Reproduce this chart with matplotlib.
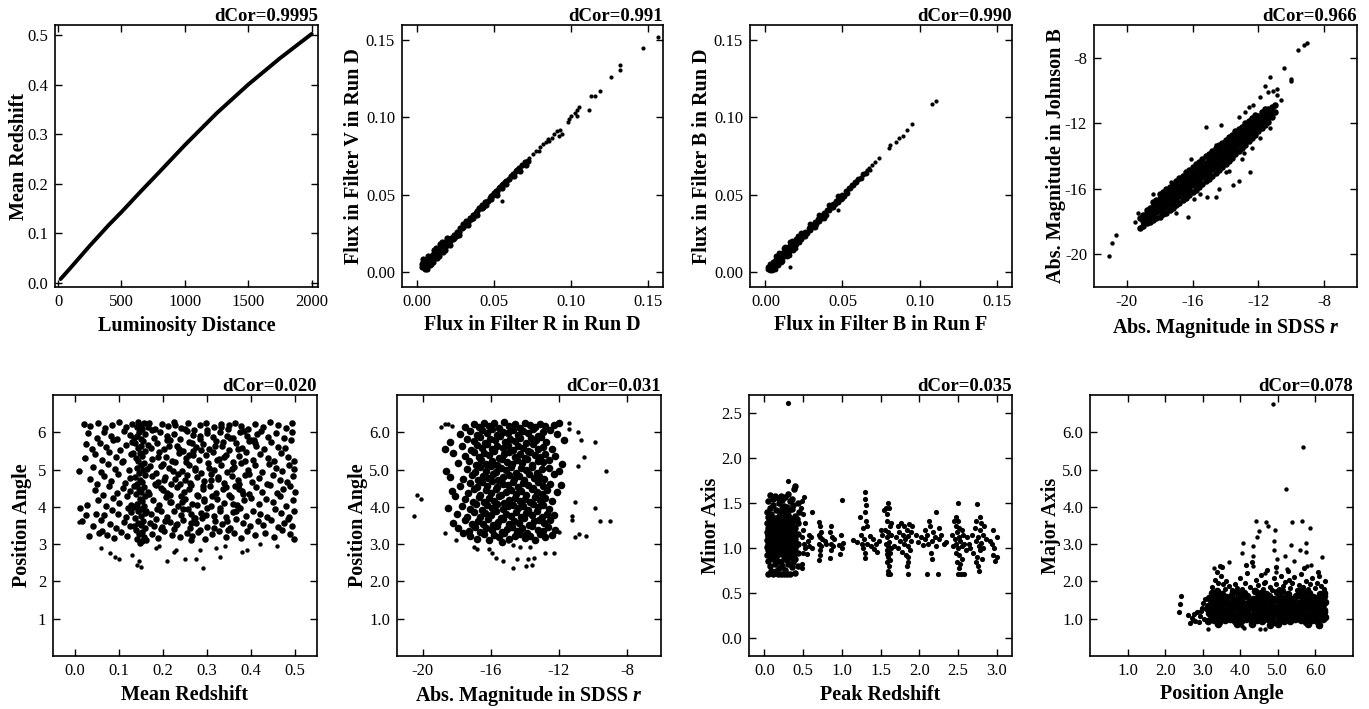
import numpy as np
import matplotlib
matplotlib.use('Agg')
import matplotlib.pyplot as plt
from matplotlib.ticker import FormatStrFormatter

plt.rcParams['font.family'] = ['Liberation Serif', 'DejaVu Serif']
plt.rcParams['mathtext.fontset'] = 'custom'
plt.rcParams['mathtext.rm'] = 'Liberation Serif:bold'
plt.rcParams['mathtext.it'] = 'Liberation Serif:italic:bold'
plt.rcParams['axes.unicode_minus'] = False

# ---- panel 1: luminosity distance vs mean redshift ----
lum_dist = [20, 100, 250, 400, 500, 650, 800, 1000, 1250, 1500, 1750, 2000]
mean_z_curve = [0.008, 0.031, 0.075, 0.117, 0.143, 0.184, 0.224, 0.278, 0.342, 0.400, 0.453, 0.502]

# ---- panel 2: flux R (run D) vs flux V (run D) ----
flux_r_v_band = [
    (0.003, 0.003), (0.003, 0.005), (0.004, 0.004), (0.004, 0.006), (0.005, 0.003), (0.005, 0.005),
    (0.006, 0.004), (0.006, 0.007), (0.007, 0.005), (0.007, 0.008), (0.008, 0.006), (0.008, 0.009),
    (0.009, 0.007), (0.009, 0.010), (0.010, 0.008), (0.010, 0.011), (0.011, 0.009), (0.011, 0.012),
    (0.012, 0.010), (0.012, 0.013), (0.013, 0.011), (0.013, 0.014), (0.014, 0.012), (0.014, 0.015),
    (0.015, 0.013), (0.015, 0.016), (0.016, 0.014), (0.016, 0.017), (0.017, 0.015), (0.017, 0.018),
    (0.018, 0.016), (0.018, 0.019), (0.019, 0.017), (0.019, 0.020), (0.020, 0.018), (0.020, 0.021),
    (0.005, 0.002), (0.006, 0.002), (0.008, 0.004), (0.007, 0.010), (0.010, 0.006), (0.012, 0.015),
    (0.014, 0.010), (0.016, 0.019), (0.018, 0.014), (0.004, 0.008), (0.005, 0.007), (0.009, 0.005),
    (0.011, 0.014), (0.013, 0.009), (0.015, 0.018), (0.017, 0.013), (0.019, 0.022), (0.021, 0.017),
    (0.021, 0.020), (0.022, 0.022), (0.023, 0.021), (0.024, 0.024), (0.025, 0.023), (0.026, 0.026),
    (0.027, 0.026), (0.028, 0.028), (0.029, 0.028), (0.030, 0.031), (0.031, 0.030), (0.032, 0.033),
    (0.033, 0.032), (0.034, 0.035), (0.035, 0.034), (0.036, 0.037), (0.037, 0.037), (0.038, 0.038),
    (0.039, 0.039), (0.040, 0.041), (0.041, 0.041), (0.042, 0.043), (0.043, 0.042), (0.044, 0.045),
    (0.045, 0.045), (0.046, 0.046), (0.047, 0.048), (0.048, 0.047), (0.049, 0.050), (0.050, 0.051),
    (0.051, 0.052), (0.052, 0.052), (0.053, 0.054), (0.054, 0.055), (0.055, 0.056), (0.056, 0.057),
    (0.057, 0.058), (0.058, 0.059), (0.060, 0.060), (0.061, 0.062), (0.062, 0.063), (0.064, 0.065),
    (0.065, 0.066), (0.066, 0.067), (0.068, 0.069), (0.070, 0.071), (0.072, 0.072), (0.071, 0.069),
    (0.024, 0.022), (0.027, 0.024), (0.030, 0.029), (0.033, 0.030), (0.036, 0.035), (0.039, 0.037),
    (0.042, 0.041), (0.045, 0.043), (0.048, 0.049), (0.052, 0.050), (0.055, 0.054), (0.058, 0.057),
    (0.063, 0.062), (0.067, 0.065),
]
flux_r_v_tail = [
    (0.073, 0.074), (0.075, 0.076), (0.077, 0.078), (0.079, 0.078), (0.080, 0.081), (0.082, 0.083),
    (0.084, 0.084), (0.085, 0.086), (0.086, 0.085), (0.088, 0.087), (0.089, 0.089), (0.091, 0.091),
    (0.092, 0.088), (0.094, 0.089), (0.093, 0.092), (0.098, 0.097), (0.099, 0.099), (0.100, 0.101),
    (0.103, 0.103), (0.104, 0.105), (0.105, 0.107), (0.104, 0.101), (0.112, 0.105), (0.113, 0.114),
    (0.116, 0.114), (0.119, 0.117), (0.126, 0.126), (0.132, 0.131), (0.132, 0.134), (0.147, 0.145),
    (0.157, 0.152), (0.055, 0.046),
]

# ---- panel 3: flux B (run F) vs flux B (run D) ----
flux_b_band = [
    (0.002, 0.002), (0.002, 0.003), (0.003, 0.001), (0.003, 0.003), (0.004, 0.002), (0.004, 0.005),
    (0.005, 0.003), (0.005, 0.006), (0.006, 0.004), (0.006, 0.007), (0.007, 0.005), (0.007, 0.008),
    (0.008, 0.006), (0.008, 0.009), (0.009, 0.007), (0.009, 0.010), (0.010, 0.008), (0.010, 0.011),
    (0.011, 0.009), (0.011, 0.012), (0.012, 0.010), (0.012, 0.013), (0.013, 0.011), (0.013, 0.014),
    (0.014, 0.012), (0.014, 0.015), (0.015, 0.013), (0.015, 0.016), (0.016, 0.014), (0.016, 0.017),
    (0.017, 0.015), (0.017, 0.018), (0.018, 0.016), (0.018, 0.019), (0.019, 0.017), (0.019, 0.020),
    (0.020, 0.018), (0.020, 0.021), (0.004, 0.001), (0.006, 0.002), (0.008, 0.004), (0.007, 0.010),
    (0.010, 0.006), (0.012, 0.015), (0.014, 0.010), (0.016, 0.019), (0.018, 0.014), (0.003, 0.005),
    (0.005, 0.002), (0.009, 0.012), (0.011, 0.007), (0.013, 0.016), (0.015, 0.011), (0.017, 0.020),
    (0.019, 0.015), (0.021, 0.023), (0.022, 0.019),
    (0.021, 0.020), (0.022, 0.022), (0.023, 0.021), (0.024, 0.024), (0.025, 0.023), (0.026, 0.026),
    (0.027, 0.025), (0.028, 0.028), (0.029, 0.027), (0.030, 0.030), (0.031, 0.029), (0.032, 0.032),
    (0.033, 0.031), (0.034, 0.034), (0.035, 0.033), (0.036, 0.036), (0.037, 0.035), (0.038, 0.038),
    (0.039, 0.037), (0.040, 0.040), (0.041, 0.040), (0.042, 0.042), (0.043, 0.042), (0.044, 0.044),
    (0.045, 0.044), (0.046, 0.046), (0.047, 0.045), (0.048, 0.048), (0.049, 0.047), (0.050, 0.050),
    (0.051, 0.049), (0.052, 0.052), (0.053, 0.051), (0.054, 0.054), (0.055, 0.054), (0.056, 0.056),
    (0.057, 0.056), (0.058, 0.058), (0.059, 0.058), (0.060, 0.060), (0.062, 0.061), (0.063, 0.063),
    (0.065, 0.064), (0.023, 0.025), (0.026, 0.023), (0.029, 0.031), (0.032, 0.029), (0.035, 0.037),
    (0.038, 0.035), (0.041, 0.043), (0.044, 0.042), (0.047, 0.049), (0.050, 0.048),
]
flux_b_tail = [
    (0.066, 0.066), (0.067, 0.067), (0.068, 0.066), (0.069, 0.069), (0.071, 0.071), (0.074, 0.074),
    (0.080, 0.080), (0.081, 0.082), (0.085, 0.084), (0.087, 0.087), (0.089, 0.088), (0.092, 0.092),
    (0.095, 0.096), (0.108, 0.109), (0.111, 0.111), (0.016, 0.003), (0.047, 0.040),
]

# ---- panel 4: abs. magnitude SDSS r vs Johnson B ----
mag_r_b_core = [
    (-19.2, -18.4), (-19.2, -17.8), (-19.0, -18.3), (-19.0, -17.95), (-19.0, -17.6),
    (-18.8, -18.1), (-18.8, -17.8), (-18.8, -17.5), (-18.8, -17.3),
    (-18.6, -18.0), (-18.6, -17.7), (-18.6, -17.45), (-18.6, -17.2),
    (-18.4, -17.9), (-18.4, -17.6), (-18.4, -17.35), (-18.4, -17.1), (-18.4, -16.8),
    (-18.2, -17.8), (-18.2, -17.45), (-18.2, -17.2), (-18.2, -16.95), (-18.2, -16.7),
    (-18.0, -17.7), (-18.0, -17.35), (-18.0, -17.1), (-18.0, -16.85), (-18.0, -16.6), (-18.0, -16.3),
    (-17.8, -17.55), (-17.8, -17.2), (-17.8, -16.95), (-17.8, -16.7), (-17.8, -16.45), (-17.8, -16.2),
    (-17.6, -17.5), (-17.6, -17.1), (-17.6, -16.85), (-17.6, -16.6), (-17.6, -16.35), (-17.6, -16.0),
    (-17.4, -17.3), (-17.4, -16.95), (-17.4, -16.7), (-17.4, -16.45), (-17.4, -16.2), (-17.4, -15.9),
    (-17.2, -17.2), (-17.2, -16.8), (-17.2, -16.55), (-17.2, -16.3), (-17.2, -16.05), (-17.2, -15.75),
    (-17.0, -17.0), (-17.0, -16.6), (-17.0, -16.35), (-17.0, -16.1), (-17.0, -15.85), (-17.0, -15.5),
    (-16.8, -16.9), (-16.8, -16.45), (-16.8, -16.2), (-16.8, -15.95), (-16.8, -15.7), (-16.8, -15.35),
    (-16.6, -16.7), (-16.6, -16.3), (-16.6, -16.05), (-16.6, -15.8), (-16.6, -15.55), (-16.6, -15.2),
    (-16.4, -16.55), (-16.4, -16.15), (-16.4, -15.9), (-16.4, -15.65), (-16.4, -15.4), (-16.4, -15.0),
    (-16.2, -16.4), (-16.2, -16.0), (-16.2, -15.75), (-16.2, -15.5), (-16.2, -15.25), (-16.2, -14.85),
    (-16.0, -16.2), (-16.0, -15.8), (-16.0, -15.55), (-16.0, -15.3), (-16.0, -15.05), (-16.0, -14.7),
    (-15.8, -16.05), (-15.8, -15.65), (-15.8, -15.4), (-15.8, -15.15), (-15.8, -14.9), (-15.8, -14.5),
    (-15.6, -15.9), (-15.6, -15.5), (-15.6, -15.25), (-15.6, -15.0), (-15.6, -14.75), (-15.6, -14.35),
    (-15.4, -15.7), (-15.4, -15.3), (-15.4, -15.05), (-15.4, -14.8), (-15.4, -14.55), (-15.4, -14.2),
    (-15.2, -15.55), (-15.2, -15.15), (-15.2, -14.9), (-15.2, -14.65), (-15.2, -14.4), (-15.2, -14.0),
    (-15.0, -15.4), (-15.0, -15.0), (-15.0, -14.75), (-15.0, -14.5), (-15.0, -14.25), (-15.0, -13.85),
    (-14.8, -15.2), (-14.8, -14.8), (-14.8, -14.55), (-14.8, -14.3), (-14.8, -14.05), (-14.8, -13.7),
    (-14.6, -15.05), (-14.6, -14.65), (-14.6, -14.4), (-14.6, -14.15), (-14.6, -13.9), (-14.6, -13.5),
    (-14.4, -14.85), (-14.4, -14.45), (-14.4, -14.2), (-14.4, -13.95), (-14.4, -13.7), (-14.4, -13.35),
    (-14.2, -14.7), (-14.2, -14.3), (-14.2, -14.05), (-14.2, -13.8), (-14.2, -13.55), (-14.2, -13.2),
    (-14.0, -14.5), (-14.0, -14.1), (-14.0, -13.85), (-14.0, -13.6), (-14.0, -13.35), (-14.0, -13.0),
    (-13.8, -14.3), (-13.8, -13.95), (-13.8, -13.7), (-13.8, -13.45), (-13.8, -13.2), (-13.8, -12.85),
    (-13.6, -14.1), (-13.6, -13.75), (-13.6, -13.5), (-13.6, -13.25), (-13.6, -13.0), (-13.6, -12.7),
    (-13.4, -13.9), (-13.4, -13.55), (-13.4, -13.3), (-13.4, -13.05), (-13.4, -12.8), (-13.4, -12.5),
    (-13.2, -13.7), (-13.2, -13.35), (-13.2, -13.1), (-13.2, -12.9), (-13.2, -12.65), (-13.2, -12.35),
    (-13.0, -13.5), (-13.0, -13.2), (-13.0, -12.95), (-13.0, -12.75), (-13.0, -12.5), (-13.0, -12.2),
    (-12.8, -13.3), (-12.8, -13.0), (-12.8, -12.8), (-12.8, -12.55), (-12.8, -12.3), (-12.8, -12.0),
    (-12.6, -13.1), (-12.6, -12.8), (-12.6, -12.6), (-12.6, -12.4), (-12.6, -12.15), (-12.6, -11.85),
    (-12.4, -12.9), (-12.4, -12.6), (-12.4, -12.4), (-12.4, -12.2), (-12.4, -12.0), (-12.4, -11.7),
    (-12.2, -12.7), (-12.2, -12.4), (-12.2, -12.2), (-12.2, -12.0), (-12.2, -11.8), (-12.2, -11.5),
    (-12.0, -12.5), (-12.0, -12.2), (-12.0, -12.0), (-12.0, -11.8), (-12.0, -11.55),
    (-11.8, -12.3), (-11.8, -12.0), (-11.8, -11.8), (-11.8, -11.55), (-11.8, -11.3),
    (-11.6, -12.1), (-11.6, -11.8), (-11.6, -11.6), (-11.6, -11.35), (-11.6, -11.1),
    (-11.4, -11.9), (-11.4, -11.6), (-11.4, -11.4), (-11.4, -11.15),
    (-11.2, -11.6), (-11.2, -11.3), (-11.2, -11.0), (-11.0, -11.3), (-11.0, -10.9),
]
mag_r_b_out = [
    (-21.1, -20.1), (-20.9, -19.3), (-20.65, -18.8), (-19.3, -17.5), (-19.5, -18.0), (-18.7, -17.95),
    (-9.6, -7.5), (-9.2, -7.2), (-9.05, -7.1), (-10.45, -8.6), (-10.0, -9.4), (-10.0, -9.3),
    (-11.3, -9.2), (-10.85, -9.9), (-10.85, -10.3), (-11.1, -10.0), (-10.6, -10.6), (-11.6, -9.7),
    (-11.9, -10.4), (-11.4, -10.1), (-12.3, -10.9), (-12.8, -11.3), (-13.2, -11.6), (-12.6, -11.0),
    (-15.2, -12.2), (-14.25, -12.1), (-14.6, -13.3), (-16.1, -14.2), (-17.3, -15.6), (-18.4, -16.3),
    (-12.5, -15.0), (-13.2, -15.5), (-13.55, -15.8), (-14.4, -16.0), (-14.55, -16.5), (-15.15, -16.5),
    (-15.55, -16.3), (-15.9, -16.6), (-16.3, -17.7), (-17.0, -17.5), (-14.0, -15.0), (-13.0, -14.2),
    (-12.4, -13.5), (-11.9, -12.9), (-11.3, -12.3), (-12.9, -13.8), (-13.8, -14.9),
]

# ---- panel 5: mean redshift vs position angle ----
z_pa_core = [
    (0.148, 3.02), (0.152, 3.08), (0.141, 3.15), (0.157, 3.19), (0.146, 3.27), (0.153, 3.33),
    (0.139, 3.38), (0.160, 3.44), (0.149, 3.51), (0.144, 3.58), (0.155, 3.63), (0.137, 3.70),
    (0.151, 3.76), (0.158, 3.83), (0.143, 3.89), (0.149, 3.95), (0.156, 4.02), (0.140, 4.08),
    (0.152, 4.15), (0.147, 4.21), (0.159, 4.28), (0.138, 4.34), (0.150, 4.41), (0.145, 4.47),
    (0.157, 4.53), (0.142, 4.60), (0.153, 4.66), (0.148, 4.73), (0.136, 4.79), (0.160, 4.86),
    (0.146, 4.92), (0.154, 4.98), (0.141, 5.05), (0.150, 5.11), (0.157, 5.18), (0.144, 5.24),
    (0.139, 5.31), (0.152, 5.37), (0.147, 5.44), (0.158, 5.50), (0.143, 5.57), (0.151, 5.63),
    (0.137, 5.70), (0.155, 5.76), (0.149, 5.83), (0.142, 5.89), (0.159, 5.95), (0.146, 6.02),
    (0.153, 6.08), (0.140, 6.14), (0.150, 6.20), (0.156, 6.26), (0.144, 6.28), (0.135, 3.48),
    (0.162, 3.90), (0.134, 4.55), (0.163, 5.02), (0.133, 5.85), (0.165, 6.15), (0.162, 3.12),
    (0.134, 4.00), (0.165, 4.40), (0.131, 5.45), (0.166, 5.65), (0.145, 3.95),
    (0.032, 3.21), (0.055, 3.30), (0.061, 3.36), (0.072, 3.25), (0.088, 3.17), (0.104, 3.33),
    (0.118, 3.22), (0.176, 3.28), (0.189, 3.16), (0.203, 3.35), (0.221, 3.24), (0.238, 3.19),
    (0.254, 3.31), (0.267, 3.22), (0.283, 3.37), (0.296, 3.15), (0.312, 3.27), (0.327, 3.34),
    (0.344, 3.20), (0.361, 3.29), (0.378, 3.17), (0.392, 3.36), (0.409, 3.24), (0.431, 3.31),
    (0.452, 3.19), (0.471, 3.38), (0.488, 3.27), (0.498, 3.15), (0.196, 3.40), (0.264, 3.12),
    (0.347, 3.38),
    (0.015, 3.62), (0.041, 3.48), (0.058, 3.66), (0.079, 3.55), (0.093, 3.44), (0.112, 3.60),
    (0.124, 3.49), (0.171, 3.57), (0.184, 3.68), (0.198, 3.46), (0.215, 3.59), (0.229, 3.51),
    (0.246, 3.65), (0.261, 3.43), (0.274, 3.58), (0.288, 3.69), (0.301, 3.47), (0.318, 3.62),
    (0.333, 3.53), (0.352, 3.44), (0.366, 3.67), (0.381, 3.56), (0.397, 3.48), (0.415, 3.63),
    (0.428, 3.52), (0.445, 3.66), (0.462, 3.45), (0.476, 3.58), (0.483, 3.68), (0.494, 3.50),
    (0.272, 3.70), (0.205, 3.62),
    (0.025, 3.78), (0.048, 3.81), (0.067, 3.79), (0.083, 3.92), (0.098, 3.82), (0.115, 3.74),
    (0.127, 3.86), (0.173, 3.80), (0.186, 3.95), (0.209, 3.73), (0.224, 3.88), (0.241, 3.77),
    (0.257, 3.93), (0.270, 3.71), (0.286, 3.84), (0.299, 3.98), (0.315, 3.75), (0.329, 3.89),
    (0.343, 3.72), (0.358, 3.85), (0.374, 3.97), (0.389, 3.76), (0.404, 3.90), (0.421, 3.81),
    (0.437, 3.74), (0.455, 3.94), (0.469, 3.83), (0.486, 3.72), (0.497, 3.90), (0.120, 3.97),
    (0.264, 3.80),
    (0.012, 3.96), (0.028, 4.05), (0.053, 4.18), (0.070, 4.02), (0.086, 4.24), (0.101, 4.11),
    (0.119, 4.28), (0.128, 4.06), (0.178, 4.19), (0.192, 4.04), (0.207, 4.26), (0.219, 4.13),
    (0.235, 4.01), (0.251, 4.22), (0.266, 4.09), (0.279, 4.29), (0.293, 4.15), (0.308, 4.03),
    (0.322, 4.21), (0.338, 4.11), (0.355, 4.27), (0.369, 4.05), (0.384, 4.18), (0.401, 4.25),
    (0.418, 4.07), (0.434, 4.20), (0.449, 4.12), (0.466, 4.28), (0.480, 4.03), (0.496, 4.19),
    (0.244, 4.14),
    (0.045, 4.45), (0.063, 4.32), (0.077, 4.55), (0.095, 4.38), (0.108, 4.51), (0.125, 4.42),
    (0.169, 4.35), (0.183, 4.58), (0.201, 4.44), (0.216, 4.31), (0.232, 4.53), (0.248, 4.40),
    (0.263, 4.59), (0.277, 4.33), (0.291, 4.47), (0.306, 4.56), (0.321, 4.37), (0.336, 4.49),
    (0.350, 4.32), (0.364, 4.57), (0.379, 4.43), (0.395, 4.34), (0.411, 4.52), (0.426, 4.41),
    (0.443, 4.58), (0.458, 4.36), (0.473, 4.48), (0.489, 4.55), (0.499, 4.40), (0.196, 4.50),
    (0.372, 4.47),
    (0.035, 4.74), (0.051, 4.62), (0.066, 4.82), (0.082, 4.70), (0.097, 4.88), (0.113, 4.65),
    (0.126, 4.77), (0.174, 4.84), (0.188, 4.66), (0.204, 4.79), (0.218, 4.61), (0.233, 4.87),
    (0.249, 4.72), (0.262, 4.64), (0.278, 4.81), (0.294, 4.69), (0.309, 4.89), (0.324, 4.75),
    (0.339, 4.63), (0.357, 4.83), (0.371, 4.71), (0.386, 4.86), (0.402, 4.67), (0.419, 4.78),
    (0.436, 4.62), (0.451, 4.85), (0.467, 4.73), (0.482, 4.66), (0.495, 4.82), (0.228, 4.74),
    (0.010, 4.95), (0.042, 5.06), (0.059, 4.93), (0.074, 5.15), (0.091, 5.01), (0.106, 5.19),
    (0.122, 4.98), (0.171, 5.10), (0.185, 4.92), (0.199, 5.16), (0.213, 5.03), (0.227, 5.20),
    (0.243, 4.96), (0.259, 5.12), (0.273, 5.05), (0.287, 4.91), (0.302, 5.17), (0.317, 5.00),
    (0.331, 5.13), (0.346, 4.94), (0.362, 5.08), (0.377, 5.18), (0.393, 4.99), (0.408, 5.11),
    (0.424, 4.93), (0.440, 5.15), (0.456, 5.04), (0.470, 4.97), (0.487, 5.12), (0.498, 5.01),
    (0.022, 5.30), (0.046, 5.42), (0.062, 5.26), (0.078, 5.48), (0.094, 5.33), (0.110, 5.22),
    (0.127, 5.41), (0.176, 5.28), (0.191, 5.46), (0.206, 5.35), (0.221, 5.23), (0.237, 5.44),
    (0.252, 5.31), (0.268, 5.49), (0.282, 5.25), (0.297, 5.38), (0.313, 5.47), (0.328, 5.29),
    (0.344, 5.40), (0.359, 5.21), (0.373, 5.36), (0.388, 5.48), (0.405, 5.27), (0.420, 5.43),
    (0.438, 5.32), (0.453, 5.24), (0.468, 5.45), (0.484, 5.34), (0.497, 5.22), (0.258, 5.40),
    (0.026, 5.68), (0.038, 5.55), (0.056, 5.72), (0.071, 5.60), (0.087, 5.78), (0.103, 5.52),
    (0.117, 5.66), (0.129, 5.75), (0.172, 5.58), (0.187, 5.71), (0.202, 5.54), (0.217, 5.79),
    (0.231, 5.63), (0.246, 5.51), (0.260, 5.74), (0.276, 5.60), (0.290, 5.69), (0.305, 5.56),
    (0.320, 5.77), (0.334, 5.64), (0.349, 5.53), (0.365, 5.70), (0.380, 5.59), (0.396, 5.76),
    (0.412, 5.62), (0.429, 5.54), (0.445, 5.73), (0.461, 5.61), (0.477, 5.57), (0.491, 5.79),
    (0.408, 5.70),
    (0.030, 5.98), (0.049, 5.86), (0.065, 6.01), (0.081, 5.90), (0.096, 5.82), (0.111, 6.03),
    (0.124, 5.93), (0.179, 5.85), (0.194, 6.00), (0.210, 5.89), (0.225, 5.96), (0.239, 5.83),
    (0.255, 6.04), (0.269, 5.92), (0.284, 5.81), (0.300, 5.99), (0.314, 5.87), (0.330, 6.02),
    (0.345, 5.90), (0.360, 5.84), (0.376, 6.00), (0.391, 5.91), (0.407, 5.80), (0.423, 6.03),
    (0.439, 5.88), (0.457, 5.97), (0.474, 5.85), (0.493, 6.02), (0.413, 5.95),
    (0.020, 6.22), (0.034, 6.18), (0.052, 6.25), (0.068, 6.11), (0.084, 6.20), (0.100, 6.27),
    (0.116, 6.14), (0.130, 6.23), (0.168, 6.26), (0.182, 6.09), (0.197, 6.21), (0.212, 6.16),
    (0.226, 6.27), (0.242, 6.12), (0.256, 6.24), (0.271, 6.07), (0.285, 6.19), (0.298, 6.26),
    (0.316, 6.13), (0.332, 6.22), (0.348, 6.10), (0.363, 6.25), (0.377, 6.18), (0.394, 6.08),
    (0.410, 6.23), (0.427, 6.14), (0.444, 6.27), (0.462, 6.19), (0.479, 6.11), (0.494, 6.24),
    (0.180, 3.48), (0.195, 3.90), (0.208, 4.38), (0.222, 4.95), (0.236, 5.55), (0.250, 6.10),
    (0.263, 3.58), (0.277, 4.05), (0.290, 4.55), (0.304, 5.05), (0.318, 5.62), (0.331, 6.14),
    (0.345, 3.62), (0.358, 4.08), (0.372, 4.62), (0.386, 5.22), (0.399, 5.80), (0.175, 6.05),
    (0.189, 5.35), (0.203, 4.72), (0.217, 4.12), (0.231, 3.55), (0.245, 3.95), (0.259, 4.48),
    (0.273, 5.00), (0.287, 5.52), (0.301, 6.07), (0.315, 3.42), (0.329, 3.98), (0.343, 4.52),
    (0.357, 5.02), (0.371, 5.55), (0.385, 6.04), (0.213, 5.62), (0.227, 6.20), (0.241, 4.28),
    (0.255, 4.85), (0.269, 5.38), (0.283, 5.90), (0.297, 3.78), (0.311, 4.30), (0.325, 4.80),
    (0.339, 5.35), (0.353, 5.85), (0.367, 3.90), (0.381, 4.35), (0.395, 4.88), (0.182, 4.60),
    (0.196, 5.10), (0.210, 5.80), (0.224, 3.40), (0.238, 4.60), (0.252, 5.20), (0.266, 5.70),
    (0.280, 3.32), (0.294, 4.22), (0.308, 4.72), (0.322, 5.25), (0.336, 5.75), (0.350, 6.20),
]
z_pa_out = [
    (0.060, 2.90), (0.080, 2.75), (0.100, 2.60), (0.090, 2.65), (0.130, 2.70), (0.140, 2.45),
    (0.150, 2.40), (0.145, 2.55), (0.185, 2.90), (0.190, 2.95), (0.210, 2.55), (0.225, 2.80),
    (0.230, 2.85), (0.250, 2.60), (0.275, 2.60), (0.285, 2.85), (0.290, 2.35), (0.330, 2.65),
    (0.320, 2.90), (0.340, 2.95), (0.380, 2.80), (0.390, 2.85), (0.420, 3.00), (0.460, 2.95),
    (0.010, 3.60), (0.020, 5.30), (0.025, 5.70), (0.020, 6.20),
]

# ---- panel 6: abs. magnitude SDSS r vs position angle ----
mag_pa_core = [
    (-17.2, 3.22), (-16.8, 3.15), (-16.4, 3.27), (-16.1, 3.12), (-15.8, 3.24), (-15.5, 3.18),
    (-15.2, 3.29), (-14.9, 3.13), (-14.6, 3.21), (-14.3, 3.26), (-14.0, 3.16), (-13.7, 3.23),
    (-13.4, 3.11), (-13.1, 3.28), (-12.8, 3.19), (-17.6, 3.30), (-12.4, 3.25), (-15.35, 3.05),
    (-17.9, 3.42), (-17.3, 3.35), (-16.9, 3.47), (-16.6, 3.32), (-16.25, 3.44), (-15.95, 3.38),
    (-15.65, 3.49), (-15.35, 3.33), (-15.05, 3.41), (-14.75, 3.46), (-14.45, 3.36), (-14.15, 3.43),
    (-13.85, 3.31), (-13.55, 3.48), (-13.25, 3.39), (-12.95, 3.34), (-12.65, 3.45), (-12.2, 3.37),
    (-18.2, 3.58), (-17.5, 3.66), (-17.1, 3.53), (-16.75, 3.62), (-16.45, 3.55), (-16.15, 3.68),
    (-15.85, 3.51), (-15.55, 3.60), (-15.25, 3.67), (-14.95, 3.54), (-14.65, 3.63), (-14.35, 3.57),
    (-14.05, 3.69), (-13.75, 3.52), (-13.45, 3.61), (-13.15, 3.65), (-12.85, 3.56), (-12.5, 3.64),
    (-18.0, 3.80), (-17.4, 3.74), (-17.0, 3.86), (-16.65, 3.72), (-16.35, 3.83), (-16.0, 3.77),
    (-15.7, 3.88), (-15.4, 3.71), (-15.1, 3.81), (-14.8, 3.76), (-14.5, 3.87), (-14.2, 3.73),
    (-13.9, 3.84), (-13.6, 3.78), (-13.3, 3.89), (-13.0, 3.74), (-12.7, 3.82), (-12.3, 3.79),
    (-17.7, 4.02), (-17.2, 3.95), (-16.85, 4.07), (-16.5, 3.92), (-16.2, 4.04), (-15.9, 3.98),
    (-15.6, 4.09), (-15.3, 3.93), (-15.0, 4.01), (-14.7, 4.06), (-14.4, 3.96), (-14.1, 4.03),
    (-13.8, 3.91), (-13.5, 4.08), (-13.2, 3.99), (-12.9, 4.05), (-12.6, 3.94), (-18.5, 3.98),
    (-17.5, 4.21), (-17.05, 4.14), (-16.7, 4.26), (-16.4, 4.12), (-16.1, 4.23), (-15.8, 4.17),
    (-15.5, 4.28), (-15.2, 4.11), (-14.9, 4.19), (-14.6, 4.25), (-14.3, 4.15), (-14.0, 4.22),
    (-13.7, 4.13), (-13.4, 4.27), (-13.1, 4.18), (-12.8, 4.24), (-12.4, 4.16), (-18.1, 4.29),
    (-18.3, 4.42), (-17.35, 4.36), (-16.95, 4.47), (-16.6, 4.33), (-16.3, 4.44), (-16.0, 4.38),
    (-15.7, 4.49), (-15.4, 4.32), (-15.1, 4.41), (-14.8, 4.46), (-14.5, 4.35), (-14.2, 4.43),
    (-13.9, 4.31), (-13.6, 4.48), (-13.3, 4.39), (-13.0, 4.34), (-12.7, 4.45), (-12.1, 4.40),
    (-17.8, 4.55), (-17.2, 4.63), (-16.8, 4.52), (-16.5, 4.66), (-16.2, 4.57), (-15.9, 4.69),
    (-15.6, 4.54), (-15.3, 4.62), (-15.0, 4.58), (-14.7, 4.67), (-14.4, 4.53), (-14.1, 4.64),
    (-13.8, 4.59), (-13.5, 4.51), (-13.2, 4.68), (-12.9, 4.56), (-12.5, 4.61), (-11.9, 4.58),
    (-18.4, 4.81), (-17.6, 4.75), (-17.1, 4.86), (-16.75, 4.72), (-16.45, 4.83), (-16.15, 4.77),
    (-15.85, 4.88), (-15.55, 4.71), (-15.25, 4.80), (-14.95, 4.85), (-14.65, 4.74), (-14.35, 4.82),
    (-14.05, 4.73), (-13.75, 4.87), (-13.45, 4.78), (-13.15, 4.84), (-12.85, 4.76), (-12.3, 4.89),
    (-18.6, 4.95), (-17.4, 5.02), (-16.9, 4.93), (-16.6, 5.06), (-16.3, 4.97), (-16.0, 5.09),
    (-15.7, 4.94), (-15.4, 5.03), (-15.1, 4.99), (-14.8, 5.07), (-14.5, 4.92), (-14.2, 5.04),
    (-13.9, 4.98), (-13.6, 5.08), (-13.3, 4.91), (-13.0, 5.01), (-12.6, 5.05), (-12.0, 4.96),
    (-17.9, 5.18), (-17.3, 5.24), (-16.85, 5.13), (-16.55, 5.27), (-16.25, 5.16), (-15.95, 5.22),
    (-15.65, 5.11), (-15.35, 5.28), (-15.05, 5.19), (-14.75, 5.14), (-14.45, 5.25), (-14.15, 5.17),
    (-13.85, 5.29), (-13.55, 5.12), (-13.25, 5.23), (-12.95, 5.20), (-12.6, 5.26), (-11.8, 5.15),
    (-18.2, 5.45), (-17.5, 5.36), (-17.0, 5.47), (-16.7, 5.33), (-16.4, 5.44), (-16.1, 5.38),
    (-15.8, 5.49), (-15.5, 5.31), (-15.2, 5.41), (-14.9, 5.46), (-14.6, 5.35), (-14.3, 5.43),
    (-14.0, 5.32), (-13.7, 5.48), (-13.4, 5.39), (-13.1, 5.34), (-12.8, 5.42), (-12.2, 5.37),
    (-18.7, 5.56), (-17.7, 5.63), (-17.15, 5.52), (-16.8, 5.66), (-16.5, 5.57), (-16.2, 5.69),
    (-15.9, 5.54), (-15.6, 5.62), (-15.3, 5.58), (-15.0, 5.67), (-14.7, 5.53), (-14.4, 5.64),
    (-14.1, 5.59), (-13.8, 5.51), (-13.5, 5.68), (-13.2, 5.56), (-12.9, 5.61), (-12.4, 5.55),
    (-18.4, 5.74), (-17.4, 5.81), (-16.95, 5.76), (-16.65, 5.87), (-16.35, 5.72), (-16.05, 5.83),
    (-15.75, 5.78), (-15.45, 5.89), (-15.15, 5.73), (-14.85, 5.82), (-14.55, 5.77), (-14.25, 5.86),
    (-13.95, 5.71), (-13.65, 5.84), (-13.35, 5.79), (-13.05, 5.88), (-12.75, 5.75), (-11.7, 5.80),
    (-17.8, 5.95), (-17.2, 6.03), (-16.8, 5.92), (-16.5, 6.06), (-16.2, 5.97), (-15.9, 6.09),
    (-15.6, 5.94), (-15.3, 6.02), (-15.0, 5.98), (-14.7, 6.07), (-14.4, 5.93), (-14.1, 6.04),
    (-13.8, 5.99), (-13.5, 6.08), (-13.2, 5.91), (-12.9, 6.01), (-12.5, 6.05), (-12.1, 5.96),
    (-17.5, 6.15), (-17.0, 6.22), (-16.7, 6.13), (-16.4, 6.26), (-16.1, 6.18), (-15.8, 6.24),
    (-15.5, 6.11), (-15.2, 6.27), (-14.9, 6.16), (-14.6, 6.21), (-14.3, 6.12), (-14.0, 6.25),
    (-13.7, 6.19), (-13.4, 6.14), (-13.1, 6.23), (-12.8, 6.17), (-12.3, 6.20), (-12.0, 6.26),
]
mag_pa_out = [
    (-20.5, 3.75), (-20.3, 4.31), (-20.1, 4.21), (-18.9, 6.13), (-18.7, 6.22), (-18.5, 6.22),
    (-18.3, 6.18), (-18.7, 3.30), (-18.05, 3.12), (-9.2, 4.95), (-9.9, 3.97), (-9.6, 3.63),
    (-8.97, 3.61), (-9.9, 5.73), (-10.5, 5.35), (-10.4, 3.21), (-10.8, 3.26), (-11.05, 3.20),
    (-11.05, 4.12), (-11.2, 3.75), (-11.2, 3.66), (-10.86, 5.10), (-10.7, 5.80), (-10.9, 6.00),
    (-11.4, 6.08), (-11.4, 6.24), (-12.0, 3.32), (-12.3, 2.77),
    (-17.0, 2.93), (-16.8, 2.86), (-16.1, 2.87), (-15.9, 2.77), (-15.7, 2.63), (-15.3, 2.54),
    (-14.7, 2.37), (-14.45, 2.59), (-13.9, 2.41), (-13.55, 2.43), (-13.45, 2.63), (-13.8, 2.61),
    (-12.8, 2.77), (-14.3, 2.93), (-14.7, 2.99), (-13.7, 2.93), (-15.0, 3.08),
]

# ---- panel 7: peak redshift vs minor axis ----
zpeak_minor_low = [
    (0.03, 0.92), (0.03, 1.01), (0.03, 1.09), (0.03, 1.18), (0.03, 1.28), (0.03, 1.40), (0.04, 0.98),
    (0.05, 0.71), (0.05, 0.86), (0.05, 1.04), (0.05, 1.13), (0.05, 1.22), (0.05, 1.34), (0.05, 1.52),
    (0.07, 0.95), (0.07, 1.06), (0.07, 1.15), (0.07, 1.26), (0.07, 1.45), (0.07, 1.59), (0.07, 0.80),
    (0.09, 0.90), (0.09, 0.99), (0.09, 1.08), (0.09, 1.17), (0.09, 1.30), (0.09, 1.38), (0.09, 0.75),
    (0.11, 0.71), (0.11, 0.88), (0.11, 1.02), (0.11, 1.11), (0.11, 1.20), (0.11, 1.48), (0.11, 1.55),
    (0.13, 0.82), (0.13, 0.96), (0.13, 1.05), (0.13, 1.14), (0.13, 1.24), (0.13, 1.33), (0.13, 1.58),
    (0.15, 0.74), (0.15, 0.91), (0.15, 1.00), (0.15, 1.09), (0.15, 1.19), (0.15, 1.29), (0.15, 1.42),
    (0.17, 0.71), (0.17, 0.86), (0.17, 0.97), (0.17, 1.07), (0.17, 1.16), (0.17, 1.27), (0.17, 1.56),
    (0.19, 0.78), (0.19, 0.93), (0.19, 1.03), (0.19, 1.12), (0.19, 1.22), (0.19, 1.36), (0.19, 1.50),
    (0.21, 0.71), (0.21, 0.84), (0.21, 0.98), (0.21, 1.08), (0.21, 1.17), (0.21, 1.31), (0.21, 1.58),
    (0.23, 0.80), (0.23, 0.94), (0.23, 1.04), (0.23, 1.13), (0.23, 1.25), (0.23, 1.44), (0.23, 1.53),
    (0.25, 0.71), (0.25, 0.89), (0.25, 1.00), (0.25, 1.10), (0.25, 1.20), (0.25, 1.34), (0.25, 1.47),
    (0.27, 0.76), (0.27, 0.92), (0.27, 1.03), (0.27, 1.12), (0.27, 1.23), (0.27, 1.40), (0.27, 1.57),
    (0.29, 0.71), (0.29, 0.87), (0.29, 0.99), (0.29, 1.09), (0.29, 1.19), (0.29, 1.30), (0.29, 1.46),
    (0.31, 0.82), (0.31, 0.95), (0.31, 1.05), (0.31, 1.15), (0.31, 1.27), (0.31, 1.37), (0.31, 1.60),
    (0.33, 0.71), (0.33, 0.90), (0.33, 1.01), (0.33, 1.11), (0.33, 1.21), (0.33, 1.33), (0.33, 1.52),
    (0.35, 0.79), (0.35, 0.94), (0.35, 1.04), (0.35, 1.14), (0.35, 1.26), (0.35, 1.43), (0.35, 1.55),
    (0.37, 0.85), (0.37, 0.98), (0.37, 1.08), (0.37, 1.18), (0.37, 1.30), (0.37, 1.48), (0.38, 1.66),
    (0.40, 0.72), (0.40, 0.88), (0.40, 1.00), (0.40, 1.10), (0.40, 1.22), (0.40, 1.36), (0.39, 1.69),
    (0.43, 0.80), (0.43, 0.95), (0.43, 1.05), (0.43, 1.16), (0.43, 1.28), (0.43, 1.50), (0.44, 1.40),
    (0.04, 1.14), (0.06, 0.96), (0.08, 1.21), (0.10, 1.04), (0.12, 1.27), (0.14, 1.10), (0.16, 0.94),
    (0.18, 1.31), (0.20, 1.15), (0.22, 1.03), (0.24, 1.28), (0.26, 1.06), (0.28, 1.35), (0.30, 1.13),
    (0.32, 0.91), (0.34, 1.25), (0.36, 1.09), (0.38, 0.93), (0.41, 1.16), (0.42, 1.04), (0.06, 1.30),
    (0.12, 0.93), (0.18, 1.02), (0.24, 1.17), (0.30, 0.97), (0.36, 1.21), (0.42, 1.32), (0.08, 1.36),
    (0.20, 1.40), (0.32, 1.42),
]
zpeak_minor_high = [
    (0.49, 0.82), (0.50, 0.95), (0.51, 1.05), (0.49, 1.12), (0.50, 1.20), (0.52, 1.28), (0.50, 1.38),
    (0.48, 1.52), (0.51, 1.57), (0.47, 1.45), (0.53, 1.00), (0.49, 0.78),
    (0.56, 1.08), (0.58, 1.15), (0.60, 1.12), (0.62, 1.00), (0.61, 1.40), (0.57, 1.02), (0.55, 0.93),
    (0.71, 0.87), (0.72, 0.92), (0.72, 0.98), (0.71, 1.05), (0.72, 1.12), (0.73, 1.18), (0.72, 1.24),
    (0.71, 1.29), (0.73, 1.02), (0.74, 1.10), (0.70, 1.15), (0.78, 1.08), (0.80, 1.04),
    (0.85, 0.89), (0.86, 0.98), (0.86, 1.05), (0.87, 1.12), (0.85, 1.18), (0.86, 1.24), (0.88, 1.02),
    (0.90, 1.10), (0.98, 0.93), (1.00, 1.00), (1.01, 1.06), (0.99, 1.15), (1.00, 1.53), (0.96, 1.03),
    (1.15, 1.09), (1.20, 1.07), (1.23, 1.34), (1.25, 1.15), (1.27, 1.22), (1.28, 1.00), (1.30, 1.62),
    (1.30, 1.55), (1.31, 1.48), (1.30, 1.40), (1.31, 1.30), (1.29, 1.10), (1.30, 0.95), (1.30, 0.89),
    (1.32, 1.04), (1.33, 1.25), (1.36, 1.13), (1.26, 1.05),
    (1.38, 1.02), (1.40, 1.10), (1.42, 0.99), (1.44, 1.05), (1.46, 0.96), (1.48, 1.08), (1.52, 1.15),
    (1.55, 1.42), (1.50, 1.20),
    (1.57, 1.44), (1.58, 1.38), (1.59, 1.30), (1.60, 1.50), (1.61, 1.45), (1.62, 1.25), (1.60, 1.18),
    (1.59, 1.12), (1.61, 1.07), (1.60, 1.02), (1.58, 0.98), (1.62, 0.95), (1.60, 0.90), (1.59, 0.85),
    (1.61, 0.80), (1.60, 0.75), (1.60, 0.71), (1.62, 0.71), (1.63, 1.15), (1.57, 1.05), (1.64, 1.00),
    (1.56, 1.20), (1.63, 1.28), (1.58, 0.93), (1.62, 0.87),
    (1.68, 1.02), (1.70, 1.12), (1.72, 1.24), (1.72, 1.00), (1.74, 1.18), (1.75, 1.08), (1.76, 1.28),
    (1.78, 0.96), (1.79, 1.15), (1.80, 1.05), (1.81, 1.25), (1.82, 1.10), (1.83, 0.92), (1.84, 1.20),
    (1.85, 1.02), (1.85, 0.85), (1.85, 0.71), (1.86, 1.13), (1.87, 1.27), (1.88, 0.98), (1.89, 1.08),
    (1.90, 1.18), (1.84, 0.80), (1.86, 0.90), (1.91, 1.25),
    (1.96, 1.15), (1.98, 1.07), (2.02, 1.12), (2.05, 1.03), (2.07, 1.20), (2.08, 1.10), (2.10, 0.71),
    (2.10, 1.14), (2.12, 1.05), (2.14, 1.25), (2.15, 0.95), (2.16, 1.08), (2.18, 1.18), (2.20, 1.12),
    (2.22, 1.40), (2.22, 1.02), (2.24, 0.71), (2.25, 1.10), (2.26, 1.22), (2.28, 1.15), (2.17, 0.88),
    (2.13, 1.30), (2.32, 1.05), (2.35, 1.07),
    (2.42, 1.15), (2.44, 1.02), (2.46, 1.10), (2.47, 1.35), (2.47, 1.25), (2.48, 0.95), (2.48, 1.05),
    (2.49, 0.85), (2.49, 1.18), (2.50, 1.50), (2.50, 1.30), (2.50, 0.71), (2.50, 1.00), (2.51, 1.12),
    (2.51, 0.78), (2.52, 1.22), (2.52, 0.92), (2.53, 1.08), (2.54, 0.71), (2.55, 1.02), (2.55, 1.20),
    (2.56, 0.88), (2.57, 1.15), (2.58, 1.05), (2.60, 0.98), (2.62, 1.12), (2.45, 1.30), (2.53, 0.82),
    (2.58, 0.71),
    (2.64, 1.05), (2.66, 1.00), (2.68, 1.15), (2.70, 0.95), (2.72, 1.22), (2.73, 1.08), (2.74, 1.30),
    (2.75, 1.49), (2.75, 0.90), (2.76, 1.12), (2.76, 0.80), (2.77, 1.02), (2.77, 0.75), (2.78, 1.20),
    (2.79, 0.98), (2.80, 1.28), (2.80, 1.06), (2.81, 0.88), (2.82, 1.15), (2.83, 1.00), (2.84, 1.25),
    (2.86, 1.10), (2.78, 1.35), (2.74, 0.84),
    (2.92, 1.08), (2.95, 1.20), (2.96, 0.92), (2.97, 1.00), (2.98, 0.86), (3.00, 0.90), (3.00, 1.12),
    (2.94, 1.05), (0.30, 2.61), (0.30, 1.74),
]

# ---- panel 8: position angle vs major axis ----
pa_major_core = [
    (3.14, 0.94), (3.29, 0.97), (3.43, 0.92), (3.58, 0.96), (3.72, 0.99), (3.87, 0.93), (4.01, 0.95),
    (4.16, 0.98), (4.30, 0.91), (4.45, 0.96), (4.59, 0.94), (4.74, 0.99), (4.88, 0.92), (5.03, 0.97),
    (5.17, 0.95), (5.32, 0.93), (5.46, 0.98), (5.61, 0.96), (5.75, 0.91), (5.90, 0.97), (6.04, 0.94),
    (6.19, 0.99),
    (3.21, 1.09), (3.36, 1.04), (3.50, 1.07), (3.65, 1.01), (3.79, 1.06), (3.94, 1.08), (4.08, 1.03),
    (4.23, 1.05), (4.37, 1.09), (4.52, 1.02), (4.66, 1.06), (4.81, 1.04), (4.95, 1.09), (5.10, 1.01),
    (5.24, 1.07), (5.39, 1.05), (5.53, 1.03), (5.68, 1.08), (5.82, 1.06), (5.97, 1.02), (6.11, 1.07),
    (6.26, 1.04),
    (3.17, 1.14), (3.32, 1.18), (3.46, 1.12), (3.61, 1.16), (3.75, 1.19), (3.90, 1.13), (4.04, 1.15),
    (4.19, 1.18), (4.33, 1.11), (4.48, 1.16), (4.62, 1.14), (4.77, 1.19), (4.91, 1.12), (5.06, 1.17),
    (5.20, 1.15), (5.35, 1.13), (5.49, 1.18), (5.64, 1.16), (5.78, 1.11), (5.93, 1.17), (6.07, 1.14),
    (6.22, 1.19),
    (3.18, 1.28), (3.33, 1.24), (3.47, 1.27), (3.62, 1.21), (3.76, 1.26), (3.91, 1.29), (4.05, 1.23),
    (4.20, 1.25), (4.34, 1.28), (4.49, 1.22), (4.63, 1.26), (4.78, 1.24), (4.92, 1.29), (5.07, 1.21),
    (5.21, 1.27), (5.36, 1.25), (5.50, 1.23), (5.65, 1.28), (5.79, 1.26), (5.94, 1.22), (6.08, 1.27),
    (6.23, 1.24),
    (3.14, 1.34), (3.29, 1.37), (3.43, 1.32), (3.58, 1.36), (3.72, 1.39), (3.87, 1.33), (4.01, 1.35),
    (4.16, 1.38), (4.30, 1.31), (4.45, 1.36), (4.59, 1.34), (4.74, 1.39), (4.88, 1.32), (5.03, 1.37),
    (5.17, 1.35), (5.32, 1.33), (5.46, 1.38), (5.61, 1.36), (5.75, 1.31), (5.90, 1.37), (6.04, 1.34),
    (6.19, 1.39),
    (3.21, 1.49), (3.36, 1.44), (3.50, 1.47), (3.65, 1.41), (3.79, 1.46), (3.94, 1.48), (4.08, 1.43),
    (4.23, 1.45), (4.37, 1.49), (4.52, 1.42), (4.66, 1.46), (4.81, 1.44), (4.95, 1.49), (5.10, 1.41),
    (5.24, 1.47), (5.39, 1.45), (5.53, 1.43), (5.68, 1.48), (5.82, 1.46), (5.97, 1.42), (6.11, 1.47),
    (6.26, 1.44),
    (3.17, 1.55), (3.32, 1.60), (3.46, 1.53), (3.61, 1.58), (3.75, 1.61), (3.90, 1.54), (4.04, 1.57),
    (4.19, 1.60), (4.33, 1.52), (4.48, 1.58), (4.62, 1.55), (4.77, 1.61), (4.91, 1.53), (5.06, 1.59),
    (5.20, 1.56), (5.35, 1.54), (5.49, 1.60), (5.64, 1.57), (5.78, 1.52), (5.93, 1.59), (6.07, 1.55),
    (6.22, 1.61),
    (3.24, 1.70), (3.52, 1.66), (3.80, 1.72), (4.10, 1.68), (4.40, 1.74), (4.68, 1.65), (4.97, 1.71),
    (5.26, 1.67), (5.55, 1.73), (5.84, 1.69), (6.13, 1.66), (3.38, 1.75), (3.95, 1.69), (4.55, 1.70),
    (5.12, 1.75), (5.70, 1.72), (6.24, 1.70),
    (3.40, 0.86), (4.30, 0.85), (5.00, 0.86), (5.80, 0.87), (6.10, 0.84), (3.90, 0.87), (4.80, 0.84),
]
pa_major_upper = [
    (3.25, 1.85), (3.32, 2.05), (3.38, 2.25), (3.45, 2.42), (3.52, 2.38), (3.48, 2.15), (3.41, 1.95),
    (3.58, 1.80), (3.63, 2.02), (3.70, 1.88), (3.78, 1.76), (3.85, 1.92), (3.92, 1.82), (4.00, 2.10),
    (4.05, 1.79), (4.12, 1.97), (4.18, 2.22), (4.25, 1.85), (4.30, 2.52), (4.36, 1.78), (4.42, 2.05),
    (4.48, 1.90), (4.55, 2.18), (4.60, 1.81), (4.66, 1.99), (4.72, 2.30), (4.78, 1.86), (4.84, 1.77),
    (4.90, 2.08), (4.96, 1.92), (5.02, 1.80), (5.08, 2.15), (5.14, 1.89), (5.20, 1.98), (5.26, 2.28),
    (5.32, 1.83), (5.38, 1.95), (5.44, 2.12), (5.50, 1.78), (5.56, 1.90), (5.62, 2.20), (5.68, 1.85),
    (5.74, 2.02), (5.80, 1.79), (5.86, 1.93), (5.92, 2.10), (5.98, 1.82), (6.04, 1.97), (6.10, 2.15),
    (6.16, 1.88), (6.22, 1.80), (6.26, 2.00), (3.55, 1.92), (4.95, 2.40), (5.70, 2.35), (4.15, 2.45),
    (6.08, 2.25), (3.35, 1.75), (4.62, 1.95), (5.30, 2.05),
    (2.38, 1.18), (2.40, 1.39), (2.43, 1.61), (2.62, 1.09), (2.71, 1.03), (2.75, 0.97), (2.66, 0.88),
    (2.84, 1.18), (2.93, 1.07), (2.98, 1.30), (3.00, 1.42), (3.06, 1.52), (2.80, 0.95), (2.89, 0.90),
    (2.78, 1.12), (2.95, 1.20), (3.04, 1.00), (3.08, 1.25),
]
pa_major_out = [
    (4.86, 6.77), (5.67, 5.60), (5.22, 4.47), (4.43, 3.61), (4.44, 3.19), (4.51, 3.35), (4.69, 3.59),
    (4.73, 3.50), (4.93, 3.39), (4.89, 3.08), (5.38, 3.60), (5.64, 3.61), (5.85, 3.44), (5.60, 2.84),
    (5.76, 3.04), (5.35, 2.97), (5.75, 2.79), (6.18, 2.66), (4.07, 3.04), (4.04, 2.77), (3.69, 2.53),
    (3.29, 2.37), (4.33, 2.96), (4.35, 2.68), (4.89, 2.84), (4.98, 2.59), (5.20, 2.68), (4.95, 2.25),
    (5.24, 2.32), (4.35, 2.41), (4.67, 2.23), (5.42, 2.55), (5.78, 2.41), (5.87, 2.45),
    (3.15, 0.72), (4.04, 0.80), (4.53, 0.72), (4.67, 0.72), (4.10, 0.74), (6.13, 0.80),
]

titles = ['dCor=0.9995', 'dCor=0.991', 'dCor=0.990', 'dCor=0.966',
          'dCor=0.020', 'dCor=0.031', 'dCor=0.035', 'dCor=0.078']
xlabels = ['Luminosity Distance', 'Flux in Filter R in Run D', 'Flux in Filter B in Run F',
           'Abs. Magnitude in SDSS $r$', 'Mean Redshift', 'Abs. Magnitude in SDSS $r$',
           'Peak Redshift', 'Position Angle']
ylabels = ['Mean Redshift', 'Flux in Filter V in Run D', 'Flux in Filter B in Run D',
           'Abs. Magnitude in Johnson B', 'Position Angle', 'Position Angle',
           'Minor Axis', 'Major Axis']

flux_ticks = [0.0, 0.05, 0.10, 0.15]
mag_ticks = [-20, -16, -12, -8]
angle_ticks = [1, 2, 3, 4, 5, 6]

W, H = 1369, 709
fig = plt.figure(figsize=(W / 100, H / 100), dpi=100)

# axes boxes in pixels: left, top, right, bottom
boxes = [(55, 25, 318, 287), (402, 25, 663, 287), (750, 25, 1012, 287), (1094, 25, 1357, 287),
         (53, 395, 317, 656), (397, 395, 661, 656), (749, 395, 1012, 656), (1090, 395, 1353, 656)]
# distance (px) from the left spine to the y label
ylabel_gap = [26, 38, 38, 28, 21, 29, 28, 29]
axes = []
for l, t, r, b in boxes:
    axes.append(fig.add_axes([l / W, 1 - b / H, (r - l) / W, (b - t) / H]))


def style(ax, title, xlabel, ylabel, gap, width):
    ax.set_title(title, loc='right', fontsize=13.5, fontweight='bold', pad=3)
    ax.set_xlabel(xlabel, fontsize=14.5, fontweight='bold', labelpad=4)
    ax.set_ylabel(ylabel, fontsize=14.5, fontweight='bold')
    ax.yaxis.set_label_coords(-gap / width, 0.5)
    ax.tick_params(direction='in', top=True, right=True, length=5, width=1.0,
                   labelsize=12, pad=5)
    for sp in ax.spines.values():
        sp.set_linewidth(1.2)


def dots(ax, pts, size):
    x, y = np.array(pts).T
    ax.scatter(x, y, s=size, c='black', linewidths=0)


# 1
ax = axes[0]
ax.plot(lum_dist, mean_z_curve, color='black', lw=2.8, solid_capstyle='round')
ax.set_xlim(-24, 2050)
ax.set_ylim(-0.008, 0.52)
ax.set_xticks([0, 500, 1000, 1500, 2000])
ax.set_yticks([0.0, 0.1, 0.2, 0.3, 0.4, 0.5])
ax.yaxis.set_major_formatter(FormatStrFormatter('%.1f'))

# 2
ax = axes[1]
dots(ax, flux_r_v_band, 20)
dots(ax, flux_r_v_tail, 9)
ax.set_xlim(-0.01, 0.16)
ax.set_ylim(-0.01, 0.16)
ax.set_xticks(flux_ticks)
ax.set_yticks(flux_ticks)
ax.xaxis.set_major_formatter(FormatStrFormatter('%.2f'))
ax.yaxis.set_major_formatter(FormatStrFormatter('%.2f'))

# 3
ax = axes[2]
dots(ax, flux_b_band, 18)
dots(ax, flux_b_tail, 9)
ax.set_xlim(-0.01, 0.16)
ax.set_ylim(-0.01, 0.16)
ax.set_xticks(flux_ticks)
ax.set_yticks(flux_ticks)
ax.xaxis.set_major_formatter(FormatStrFormatter('%.2f'))
ax.yaxis.set_major_formatter(FormatStrFormatter('%.2f'))

# 4
ax = axes[3]
dots(ax, mag_r_b_core, 22)
dots(ax, mag_r_b_out, 10)
ax.set_xlim(-22, -6)
ax.set_ylim(-22, -6)
ax.set_xticks(mag_ticks)
ax.set_yticks(mag_ticks)

# 5
ax = axes[4]
dots(ax, z_pa_core, 22)
dots(ax, z_pa_out, 10)
ax.set_xlim(-0.05, 0.55)
ax.set_ylim(0, 7)
ax.set_xticks([0.0, 0.1, 0.2, 0.3, 0.4, 0.5])
ax.set_yticks(angle_ticks)
ax.xaxis.set_major_formatter(FormatStrFormatter('%.1f'))

# 6
ax = axes[5]
dots(ax, mag_pa_core, 30)
dots(ax, mag_pa_out, 10)
ax.set_xlim(-21.5, -6)
ax.set_ylim(0, 7)
ax.set_xticks(mag_ticks)
ax.set_yticks(angle_ticks)
ax.yaxis.set_major_formatter(FormatStrFormatter('%.1f'))

# 7
ax = axes[6]
dots(ax, zpeak_minor_low, 22)
dots(ax, zpeak_minor_high, 14)
ax.set_xlim(-0.2, 3.2)
ax.set_ylim(-0.2, 2.7)
ax.set_xticks([0.0, 0.5, 1.0, 1.5, 2.0, 2.5, 3.0])
ax.set_yticks([0.0, 0.5, 1.0, 1.5, 2.0, 2.5])
ax.xaxis.set_major_formatter(FormatStrFormatter('%.1f'))
ax.yaxis.set_major_formatter(FormatStrFormatter('%.1f'))

# 8
ax = axes[7]
dots(ax, pa_major_core, 30)
dots(ax, pa_major_upper, 14)
dots(ax, pa_major_out, 10)
ax.set_xlim(0, 7)
ax.set_ylim(0, 7)
ax.set_xticks(angle_ticks)
ax.set_yticks(angle_ticks)
ax.xaxis.set_major_formatter(FormatStrFormatter('%.1f'))
ax.yaxis.set_major_formatter(FormatStrFormatter('%.1f'))

for i, ax in enumerate(axes):
    l, t, r, b = boxes[i]
    style(ax, titles[i], xlabels[i], ylabels[i], ylabel_gap[i], r - l)

fig.savefig('out.png', dpi=100)
